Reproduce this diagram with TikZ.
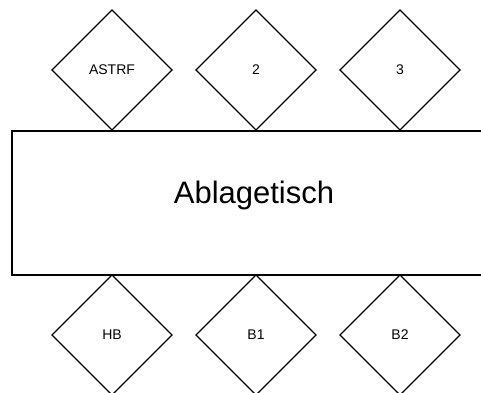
\documentclass[tikz,border=0pt]{standalone}
\usepackage{fontspec}
\setmainfont{Liberation Sans}
\usetikzlibrary{shapes.geometric}
\tikzset{
  dia/.style={draw, line width=1.3pt, shape=diamond, aspect=1, minimum width=120pt, minimum height=120pt, inner sep=0pt, outer sep=0pt, font=\fontsize{14}{16}\selectfont},
  tisch/.style={draw, line width=1.3pt, rectangle, minimum width=483pt, minimum height=144pt, inner sep=0pt, outer sep=0pt},
  big/.style={font=\fontsize{31}{35}\selectfont, inner sep=0pt}
}
\begin{document}
\begin{tikzpicture}[x=1pt,y=-1pt]
\useasboundingbox (0,0) rectangle (481,392);
\clip (0,0) rectangle (481,392);
\node[tisch] (tisch) at (253.5,203) {};
\node[big] (label) at (254,195) {Ablagetisch};
\node[dia] (astrf) at (112,70) {ASTRF};
\node[dia] (d2) at (256,70) {2};
\node[dia] (d3) at (400,70) {3};
\node[dia] (hb) at (112,335) {HB};
\node[dia] (b1) at (256,335) {B1};
\node[dia] (b2) at (400,335) {B2};
\end{tikzpicture}
\end{document}
